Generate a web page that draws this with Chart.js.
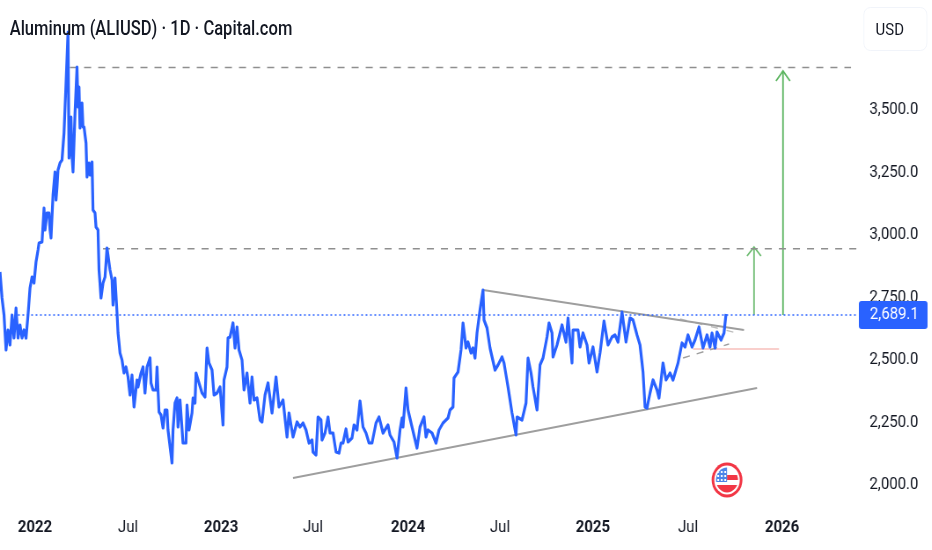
<!DOCTYPE html>
<html>
    <head>
        <meta charset="utf-8">
        <script src="https://cdn.jsdelivr.net/npm/chart.js@4/dist/chart.umd.js"></script>
        <title>Aluminum (ALIUSD)</title>
        <style>
            html, body { margin:0; padding:0; background:#fff; overflow:hidden; width:932px; height:550px; }
            /* the reference is a horizontally squeezed screenshot, so the whole chart is too */
            #container { position:absolute; left:0; top:0; width:1059px; height:550px; transform:scaleX(0.88); transform-origin:0 0; font-family:Roboto, sans-serif; color:#131722; }
            #title { position:absolute; left:11px; top:16px; font-size:20px; font-weight:500; line-height:24px; white-space:nowrap; transform:scaleX(0.94); transform-origin:0 0; }
            #currency { position:absolute; left:981px; top:7px; width:71px; height:42px; border:1px solid #f0f3fa; border-radius:8px; font-size:17px; line-height:42px; text-indent:13px; }
            canvas { display:block; }
        </style>
    </head>
    <body>
        <div id="container">
            <canvas id="price_chart" width="1059" height="550"></canvas>
            <div id="title">Aluminum (ALIUSD) · 1D · Capital.com</div>
            <div id="currency">USD</div>
        </div>

        <script type="text/javascript">
            // days since the left edge of the chart
            var days = [0,4,8,12,16,20,24,28,32,36,40,44,48,52,56,60,64,68,72,76,78,84,86,88,90,94,98,100,102,106,110,112,114,116,120,124,128,132,136,138,142,144,146,150,154,156,158,160,164,166,168,172,174,178,180,184,186,190,192,196,198,202,206,210,214,220,224,226,230,234,236,240,244,248,252,256,260,264,268,274,276,282,286,290,294,300,302,306,312,314,318,322,326,330,334,336,344,346,350,354,356,360,366,372,374,378,384,386,390,392,398,404,410,414,418,424,428,434,440,446,448,454,456,460,466,470,474,478,484,488,494,500,504,508,514,520,524,530,536,544,552,558,566,574,578,586,594,600,606,612,618,624,626,632,636,642,644,650,656,660,666,672,678,682,686,692,696,704,708,714,720,726,732,738,744,752,758,766,776,780,788,794,800,804,806,812,816,824,834,840,848,852,856,864,872,878,886,896,900,906,908,916,922,926,932,936,942,946,950,954,960,966,968,974,980,990,996,1004,1008,1016,1024,1032,1034,1044,1052,1056,1062,1066,1074,1080,1086,1094,1098,1104,1106,1114,1124,1132,1136,1144,1146,1156,1160,1166,1174,1178,1186,1194,1200,1208,1216,1224,1230,1236,1244,1252,1260,1266,1274,1280,1286,1290,1294,1300,1306,1314,1318,1326,1332,1340,1346,1356,1364,1370,1376,1384,1390,1398,1406,1414,1420,1424,1430,1434,1442,1448,1452];
            var prices = [2852,2748,2680,2540,2620,2560,2680,2588,2708,2588,2640,2588,2620,2588,2680,2788,2832,2808,2892,2940,2968,2972,3040,3108,3020,3088,3088,3020,2988,3160,3252,3140,3192,3260,3288,3300,3408,3608,3812,3308,3472,3312,3252,3488,3672,3512,3592,3428,3528,3432,3432,3368,3232,3288,3240,3292,3100,3088,3032,3020,2860,2748,2808,2832,2948,2860,2820,2720,2828,2688,2608,2528,2500,2448,2472,2432,2360,2440,2312,2420,2392,2448,2472,2368,2472,2508,2408,2380,2380,2472,2292,2280,2228,2300,2300,2220,2088,2220,2328,2348,2232,2340,2168,2168,2320,2220,2288,2348,2328,2448,2408,2368,2352,2548,2488,2460,2360,2368,2392,2240,2420,2472,2588,2592,2648,2548,2632,2540,2500,2380,2448,2328,2432,2340,2348,2260,2252,2360,2408,2288,2432,2312,2340,2192,2288,2192,2252,2232,2248,2220,2168,2180,2132,2120,2272,2260,2180,2208,2272,2208,2208,2132,2128,2168,2168,2224,2172,2188,2240,2220,2336,2232,2208,2168,2168,2248,2272,2208,2240,2200,2172,2108,2220,2268,2232,2388,2300,2232,2148,2232,2272,2192,2220,2208,2168,2220,2248,2268,2300,2312,2428,2452,2540,2648,2548,2572,2528,2548,2508,2608,2700,2780,2660,2628,2548,2460,2480,2512,2488,2392,2288,2200,2272,2260,2328,2508,2448,2392,2300,2480,2508,2592,2648,2608,2512,2560,2640,2572,2668,2488,2620,2620,2552,2608,2560,2488,2552,2452,2528,2656,2560,2592,2600,2572,2692,2572,2668,2660,2600,2560,2452,2312,2308,2368,2420,2380,2348,2488,2420,2448,2420,2488,2568,2552,2600,2552,2580,2632,2548,2600,2552,2608,2548,2612,2580,2608,2684];

            var dayTicks = [70,256,442,626,816,1000,1186,1376,1564];
            var dayTickLabels = ["2022","Jul","2023","Jul","2024","Jul","2025","Jul","2026"];
            var priceTicks = [2000,2250,2500,2750,3000,3250,3500];
            var priceTickLabels = ["2,000.0","2,250.0","2,500.0","2,750.0","3,000.0","3,250.0","3,500.0"];

            var lastPriceLevel = 2680;
            var lastPriceLabel = "2,689.1";
            var flagDay = 1454;
            var flagPrice = 2020;

            // drawings on the chart: [days], [prices]
            var targetHighDays = [140,1702], targetHighPrices = [3670,3670];
            var targetLowDays = [206,1714], targetLowPrices = [2945,2945];
            var lastPriceDays = [36,1716], lastPricePrices = [lastPriceLevel,lastPriceLevel];
            var shortArrowDays = [1508,1508], shortArrowPrices = [lastPriceLevel,2952];
            var shortHeadDays = [1494,1508,1522], shortHeadPrices = [2916,2952,2916];
            var longArrowDays = [1566,1566], longArrowPrices = [lastPriceLevel,3656];
            var longHeadDays = [1552,1566,1580], longHeadPrices = [3616,3656,3616];
            var supportDays = [586,1514], supportPrices = [2028,2388];
            var resistanceDays = [966,1488], resistancePrices = [2780,2620];
            var innerLowDays = [1366,1458], innerLowPrices = [2508,2564];
            var innerHighDays = [1360,1474], innerHighPrices = [2664,2608];
            var pinkDays = [1386,1558], pinkPrices = [2544,2544];

            function points(xs, ys){
                return xs.map(function(x, i){ return {x: x, y: ys[i]}; });
            }

            function drawing(xs, ys, color, width, dash){
                return {
                    data: points(xs, ys),
                    borderColor: color,
                    borderWidth: width,
                    borderDash: dash || [],
                    pointRadius: 0,
                    tension: 0
                };
            }

            var priceTag = {
                id: "priceTag",
                afterDraw: function(chart){
                    var ctx = chart.ctx;
                    var y = chart.scales.y.getPixelForValue(lastPriceLevel);
                    var left = chart.chartArea.right + 1;
                    ctx.save();
                    ctx.fillStyle = "#2962FF";
                    ctx.beginPath();
                    ctx.roundRect(left, y - 14, 78, 28, 3);
                    ctx.fill();
                    ctx.fillStyle = "#fff";
                    ctx.font = "17px Roboto";
                    ctx.textBaseline = "middle";
                    ctx.fillText(lastPriceLabel, left + 12.5, y);
                    ctx.restore();
                }
            };

            var flagIcon = {
                id: "flagIcon",
                afterDraw: function(chart){
                    var ctx = chart.ctx;
                    var x = chart.scales.x.getPixelForValue(flagDay);
                    var y = chart.scales.y.getPixelForValue(flagPrice);
                    ctx.save();
                    ctx.fillStyle = "#F23645";
                    ctx.beginPath();
                    ctx.arc(x, y, 17.5, 0, Math.PI * 2);
                    ctx.fill();
                    ctx.fillStyle = "#fff";
                    ctx.beginPath();
                    ctx.arc(x, y, 14.5, 0, Math.PI * 2);
                    ctx.fill();
                    ctx.beginPath();
                    ctx.arc(x, y, 12.5, 0, Math.PI * 2);
                    ctx.clip();
                    ctx.fillStyle = "#F23645";
                    ctx.fillRect(x, y - 5, 14, 5);
                    ctx.fillRect(x - 14, y + 5, 28, 9);
                    ctx.fillStyle = "#4C84E8";
                    ctx.fillRect(x - 14, y - 14, 14, 16);
                    ctx.fillStyle = "#fff";
                    for(var i = 0; i < 3; i++){
                        for(var j = 0; j < 3; j++){
                            ctx.fillRect(x - 11 + i * 4, y - 9 + j * 4, 2, 2);
                        }
                    }
                    ctx.restore();
                }
            };

            var price_chart = new Chart(document.getElementById("price_chart"), {
                type: "line",
                data: {
                    datasets: [
                        {
                            data: points(days, prices),
                            borderColor: "#2962FF",
                            borderWidth: 3.2,
                            borderJoinStyle: "round",
                            pointRadius: 0,
                            tension: 0
                        },
                        drawing(lastPriceDays, lastPricePrices, "#2962FF", 1.5, [2,3]),
                        drawing(targetHighDays, targetHighPrices, "#8f8f8f", 1.6, [8,8]),
                        drawing(targetLowDays, targetLowPrices, "#8f8f8f", 1.6, [8,8]),
                        drawing(shortArrowDays, shortArrowPrices, "#6dbb70", 1.8),
                        drawing(shortHeadDays, shortHeadPrices, "#6dbb70", 1.8),
                        drawing(longArrowDays, longArrowPrices, "#5db561", 1.8),
                        drawing(longHeadDays, longHeadPrices, "#5db561", 1.8),
                        drawing(supportDays, supportPrices, "#9e9e9e", 1.8),
                        drawing(resistanceDays, resistancePrices, "#9e9e9e", 1.8),
                        drawing(innerLowDays, innerLowPrices, "#9e9e9e", 1.4, [8,8]),
                        drawing(innerHighDays, innerHighPrices, "#bdbdbd", 1.4, [8,10]),
                        drawing(pinkDays, pinkPrices, "#f9cfcc", 1.8)
                    ]
                },
                options: {
                    responsive: false,
                    animation: false,
                    devicePixelRatio: 1,
                    layout: { padding: 0 },
                    plugins: { legend: { display: false }, tooltip: { enabled: false } },
                    scales: {
                        x: {
                            type: "linear",
                            min: 0,
                            max: 1716,
                            grid: { display: false, drawTicks: false },
                            border: { display: false },
                            afterBuildTicks: function(scale){
                                scale.ticks = dayTicks.map(function(d){ return {value: d}; });
                            },
                            afterFit: function(scale){
                                scale.height = 40;
                                scale.paddingLeft = 0;
                                scale.paddingRight = 0;
                            },
                            ticks: {
                                autoSkip: false,
                                maxRotation: 0,
                                padding: 8,
                                color: "#131722",
                                font: function(ctx){
                                    var isYear = ctx.tick && dayTickLabels[dayTicks.indexOf(ctx.tick.value)] != "Jul";
                                    return { family: "Roboto", size: 17, weight: isYear ? "bold" : "normal" };
                                },
                                callback: function(value, index){ return dayTickLabels[index]; }
                            }
                        },
                        y: {
                            type: "linear",
                            position: "right",
                            min: 1900,
                            max: 3940,
                            grid: { display: false, drawTicks: false },
                            border: { display: false },
                            afterBuildTicks: function(scale){
                                scale.ticks = priceTicks.map(function(p){ return {value: p}; });
                            },
                            afterFit: function(scale){
                                scale.width = 84;
                                scale.paddingTop = 0;
                                scale.paddingBottom = 0;
                            },
                            ticks: {
                                autoSkip: false,
                                padding: 13,
                                color: "#131722",
                                font: { family: "Roboto", size: 17 },
                                callback: function(value, index){ return priceTickLabels[index]; }
                            }
                        }
                    }
                },
                plugins: [priceTag, flagIcon]
            });
        </script>
    </body>
</html>
